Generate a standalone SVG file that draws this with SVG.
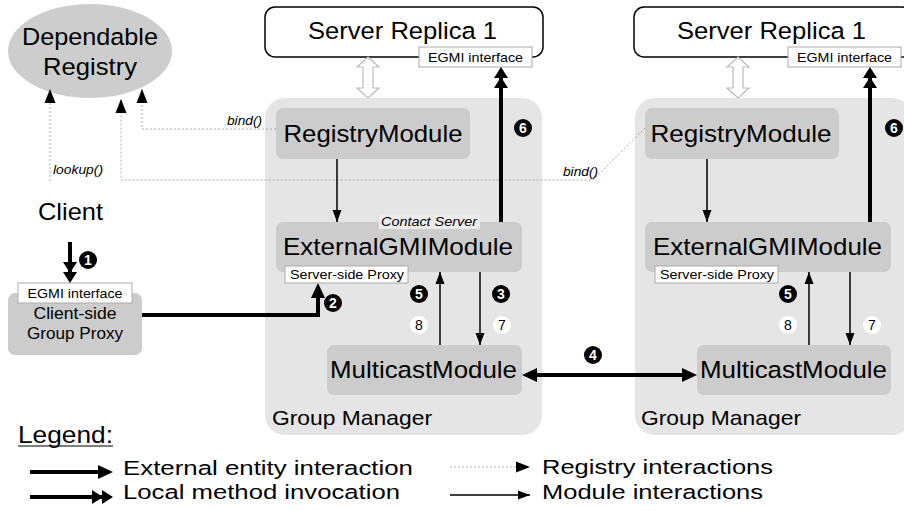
<svg xmlns="http://www.w3.org/2000/svg" width="904" height="511" viewBox="0 0 904 511">
<defs>
<style>
text{font-family:"Liberation Sans",Arial,sans-serif;fill:#000}
.big{font-size:24.5px}
.gmt{font-size:21px}
.leg{font-size:20.5px}
.mid{font-size:17px}
.sm{font-size:13.5px}
.it{font-size:12px;font-style:italic}
.gm{fill:#e5e5e5}
.mod{fill:#cccccc}
.lbl{fill:#fff;stroke:#aaa;stroke-width:1}
.thick{stroke:#000;stroke-width:4;fill:none}
.thin{stroke:#000;stroke-width:1.5;fill:none}
.reg{stroke:#999;stroke-width:0.8;stroke-dasharray:2 2;fill:none}
.hollow{fill:#fff;stroke:#bbb;stroke-width:1.2}
.nb{fill:#000}
.nbt{fill:#fff;font-size:14px;font-weight:bold;text-anchor:middle}
.nw{fill:#fff}
.nwt{fill:#000;font-size:14px;text-anchor:middle}
</style>
<marker id="hThick" markerUnits="userSpaceOnUse" markerWidth="16" markerHeight="14" refX="9" refY="7" orient="auto-start-reverse" viewBox="0 0 16 14">
<path d="M0,0 L15,7 L0,14 z" fill="#000"/>
</marker>
<marker id="hDouble" markerUnits="userSpaceOnUse" markerWidth="22" markerHeight="14" refX="15" refY="7" orient="auto" viewBox="0 0 22 14">
<path d="M0,0 L11,7 L0,14 z M10,0 L21,7 L10,14 z" fill="#000"/>
</marker>
<marker id="hThin" markerUnits="userSpaceOnUse" markerWidth="13" markerHeight="10" refX="12" refY="5" orient="auto" viewBox="0 0 13 10">
<path d="M0,0.5 L12,5 L0,9.5 z" fill="#000"/>
</marker>
<marker id="hReg" markerUnits="userSpaceOnUse" markerWidth="15" markerHeight="12" refX="14" refY="6" orient="auto" viewBox="0 0 15 12">
<path d="M0,0.5 L14,6 L0,11.5 z" fill="#000"/>
</marker>
</defs>

<!-- Group manager containers -->
<g id="group-manager-left">
<rect class="gm" x="265" y="98" width="277" height="337" rx="20"/>
<text class="gmt" x="272" y="425" textLength="160" lengthAdjust="spacingAndGlyphs">Group Manager</text>
</g>
<g id="group-manager-right">
<rect class="gm" x="635" y="98" width="277" height="337" rx="20"/>
<text class="gmt" x="641" y="425" textLength="160" lengthAdjust="spacingAndGlyphs">Group Manager</text>
</g>

<!-- Dependable registry -->
<g id="dependable-registry">
<ellipse cx="90" cy="51" rx="82" ry="47" fill="#cdcdcd"/>
<text class="big" x="90" y="45" text-anchor="middle" textLength="136" lengthAdjust="spacingAndGlyphs">Dependable</text>
<text class="big" x="90" y="75" text-anchor="middle" textLength="94" lengthAdjust="spacingAndGlyphs">Registry</text>
</g>

<!-- Server replicas -->
<g id="server-replica-left">
<rect x="265" y="7" width="278" height="50" rx="10" fill="#fff" stroke="#000" stroke-width="1.5"/>
<text class="big" x="308" y="39" textLength="189" lengthAdjust="spacingAndGlyphs">Server Replica 1</text>
<rect class="lbl" x="419" y="47" width="113" height="20"/>
<text class="sm" x="475.5" y="62" text-anchor="middle" textLength="95" lengthAdjust="spacingAndGlyphs">EGMI interface</text>
</g>
<g id="server-replica-right">
<rect x="634" y="7" width="278" height="50" rx="10" fill="#fff" stroke="#000" stroke-width="1.5"/>
<text class="big" x="677" y="39" textLength="189" lengthAdjust="spacingAndGlyphs">Server Replica 1</text>
<rect class="lbl" x="788" y="47" width="113" height="20"/>
<text class="sm" x="844.5" y="62" text-anchor="middle" textLength="95" lengthAdjust="spacingAndGlyphs">EGMI interface</text>
</g>

<!-- Modules left -->
<g id="registry-module-left">
<rect class="mod" x="276" y="108" width="194" height="51" rx="7"/>
<text class="big" x="373" y="142" text-anchor="middle" textLength="179" lengthAdjust="spacingAndGlyphs">RegistryModule</text>
</g>
<g id="external-gmi-module-left">
<rect class="mod" x="276" y="222" width="246" height="50" rx="7"/>
<text class="big" x="398" y="255" text-anchor="middle" textLength="230" lengthAdjust="spacingAndGlyphs">ExternalGMIModule</text>
<rect x="379" y="214" width="101" height="15" fill="#ececec"/>
<text class="it" x="381" y="226" textLength="96" lengthAdjust="spacingAndGlyphs">Contact Server</text>
<rect class="lbl" x="285" y="266" width="123" height="17"/>
<text class="sm" x="290" y="279" textLength="114" lengthAdjust="spacingAndGlyphs">Server-side Proxy</text>
</g>
<g id="multicast-module-left">
<rect class="mod" x="327" y="345" width="195" height="50" rx="7"/>
<text class="big" x="330" y="378" textLength="187" lengthAdjust="spacingAndGlyphs">MulticastModule</text>
</g>

<!-- Modules right -->
<g id="registry-module-right">
<rect class="mod" x="645" y="108" width="194" height="51" rx="7"/>
<text class="big" x="741" y="142" text-anchor="middle" textLength="181" lengthAdjust="spacingAndGlyphs">RegistryModule</text>
</g>
<g id="external-gmi-module-right">
<rect class="mod" x="645" y="222" width="246" height="50" rx="7"/>
<text class="big" x="767.5" y="255" text-anchor="middle" textLength="229" lengthAdjust="spacingAndGlyphs">ExternalGMIModule</text>
<rect class="lbl" x="655" y="266" width="123" height="17"/>
<text class="sm" x="660" y="279" textLength="114" lengthAdjust="spacingAndGlyphs">Server-side Proxy</text>
</g>
<g id="multicast-module-right">
<rect class="mod" x="697" y="345" width="194" height="50" rx="7"/>
<text class="big" x="700" y="378" textLength="187" lengthAdjust="spacingAndGlyphs">MulticastModule</text>
</g>

<!-- Client -->
<g id="client">
<text class="big" x="38" y="220" textLength="65" lengthAdjust="spacingAndGlyphs">Client</text>
</g>
<g id="client-side-group-proxy">
<rect class="mod" x="8" y="293" width="134" height="62" rx="7"/>
<rect class="lbl" x="18" y="283" width="114" height="20"/>
<text class="sm" x="75" y="298" text-anchor="middle" textLength="95" lengthAdjust="spacingAndGlyphs">EGMI interface</text>
<text class="mid" x="75" y="319" text-anchor="middle" textLength="83" lengthAdjust="spacingAndGlyphs">Client-side</text>
<text class="mid" x="75" y="339" text-anchor="middle" textLength="96" lengthAdjust="spacingAndGlyphs">Group Proxy</text>
</g>

<!-- Connectors -->
<g id="connectors">
<!-- hollow double arrows -->
<polygon class="hollow" points="368,57 379,67 373,67 373,88 379,88 368,98 357,88 363,88 363,67 357,67"/>
<polygon class="hollow" points="738,57 749,67 743,67 743,88 749,88 738,98 727,88 733,88 733,67 727,67"/>
<!-- registry interactions -->
<polyline class="reg" points="50,181 50,89" marker-end="url(#hReg)"/>
<polyline class="reg" points="645,128 593,180 121,180 121,99" marker-end="url(#hReg)"/>
<polyline class="reg" points="276,129 142,129 142,89" marker-end="url(#hReg)"/>
<!-- module interactions -->
<line class="thin" x1="337" y1="159" x2="337" y2="222" marker-end="url(#hThin)"/>
<line class="thin" x1="707" y1="159" x2="707" y2="222" marker-end="url(#hThin)"/>
<line class="thin" x1="440" y1="345" x2="440" y2="272" marker-end="url(#hThin)"/>
<line class="thin" x1="480" y1="272" x2="480" y2="345" marker-end="url(#hThin)"/>
<line class="thin" x1="809" y1="345" x2="809" y2="272" marker-end="url(#hThin)"/>
<line class="thin" x1="850" y1="272" x2="850" y2="345" marker-end="url(#hThin)"/>
<!-- local method invocations -->
<line class="thick" x1="70" y1="242" x2="70" y2="277" marker-end="url(#hDouble)"/>
<line class="thick" x1="501" y1="222" x2="501" y2="73" marker-end="url(#hDouble)"/>
<line class="thick" x1="870" y1="222" x2="870" y2="73" marker-end="url(#hDouble)"/>
<!-- external entity interactions -->
<polyline class="thick" points="142,315 318,315 318,289" marker-end="url(#hThick)"/>
<line class="thick" x1="528" y1="375" x2="691" y2="375" marker-start="url(#hThick)" marker-end="url(#hThick)"/>
<!-- labels -->
<text class="it" x="227" y="125" textLength="35" lengthAdjust="spacingAndGlyphs">bind()</text>
<text class="it" x="563" y="176" textLength="35" lengthAdjust="spacingAndGlyphs">bind()</text>
<text class="it" x="53" y="174" textLength="50" lengthAdjust="spacingAndGlyphs">lookup()</text>
</g>

<!-- step markers -->
<g id="steps">
<circle class="nb" cx="88" cy="260" r="9"/><text class="nbt" x="88" y="265">1</text>
<circle class="nb" cx="333" cy="303" r="9"/><text class="nbt" x="333" y="308">2</text>
<circle class="nb" cx="501" cy="294" r="9"/><text class="nbt" x="501" y="299">3</text>
<circle class="nb" cx="593" cy="355" r="9"/><text class="nbt" x="593" y="360">4</text>
<circle class="nb" cx="419" cy="294" r="9"/><text class="nbt" x="419" y="299">5</text>
<circle class="nb" cx="788" cy="294" r="9"/><text class="nbt" x="788" y="299">5</text>
<circle class="nb" cx="523" cy="128" r="9"/><text class="nbt" x="523" y="133">6</text>
<circle class="nb" cx="894" cy="128" r="9"/><text class="nbt" x="894" y="133">6</text>
<circle class="nw" cx="419" cy="325" r="9"/><text class="nwt" x="419" y="330">8</text>
<circle class="nw" cx="502" cy="325" r="9"/><text class="nwt" x="502" y="330">7</text>
<circle class="nw" cx="788" cy="325" r="9"/><text class="nwt" x="788" y="330">8</text>
<circle class="nw" cx="872" cy="325" r="9"/><text class="nwt" x="872" y="330">7</text>
</g>

<!-- Legend -->
<g id="legend">
<text class="big" x="18" y="443" textLength="95" lengthAdjust="spacingAndGlyphs">Legend:</text>
<line x1="18" y1="446" x2="113" y2="446" stroke="#000" stroke-width="1.2"/>
<line class="thick" x1="30" y1="472" x2="107" y2="472" marker-end="url(#hThick)"/>
<text class="leg" x="123" y="475" textLength="290" lengthAdjust="spacingAndGlyphs">External entity interaction</text>
<line class="thick" x1="30" y1="497" x2="107" y2="497" marker-end="url(#hDouble)"/>
<text class="leg" x="123" y="499" textLength="277" lengthAdjust="spacingAndGlyphs">Local method invocation</text>
<line class="reg" x1="450" y1="467" x2="530" y2="467" marker-end="url(#hReg)"/>
<text class="leg" x="542" y="474" textLength="231" lengthAdjust="spacingAndGlyphs">Registry interactions</text>
<line class="thin" x1="450" y1="495" x2="530" y2="495" marker-end="url(#hThin)"/>
<text class="leg" x="542" y="499" textLength="221" lengthAdjust="spacingAndGlyphs">Module interactions</text>
</g>
</svg>
